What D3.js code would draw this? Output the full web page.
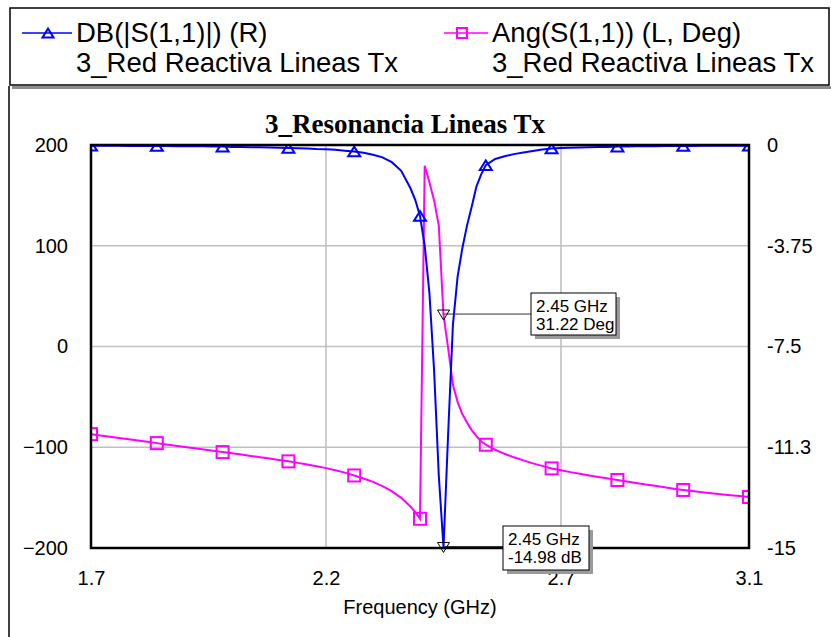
<!DOCTYPE html>
<html>
<head>
<meta charset="utf-8">
<script src="https://cdn.jsdelivr.net/npm/d3@7"></script>
<style>
  body { margin: 0; background: #fff; }
  svg { display: block; font-family: "Liberation Sans", Arial, sans-serif; }
</style>
</head>
<body>
<svg id="chart" width="831" height="637"></svg>
<script>
// Sweep frequencies (GHz): 20 MHz step, 10 MHz around the resonance
const freqGHz = [
  1.70, 1.72, 1.74, 1.76, 1.78, 1.80, 1.82, 1.84, 1.86, 1.88,
  1.90, 1.92, 1.94, 1.96, 1.98, 2.00, 2.02, 2.04, 2.06, 2.08,
  2.10, 2.12, 2.14, 2.16, 2.18, 2.20, 2.22, 2.24, 2.26, 2.28,
  2.30, 2.32, 2.34, 2.36, 2.38, 2.39, 2.40, 2.41, 2.42, 2.43,
  2.44, 2.45, 2.46, 2.47, 2.48, 2.49, 2.50, 2.51, 2.52, 2.53,
  2.54, 2.56, 2.58, 2.60, 2.62, 2.64, 2.66, 2.68, 2.70, 2.72,
  2.74, 2.76, 2.78, 2.80, 2.82, 2.84, 2.86, 2.88, 2.90, 2.92,
  2.94, 2.96, 2.98, 3.00, 3.02, 3.04, 3.06, 3.08, 3.10
];

// DB(|S(1,1)|), right axis
const s11dB = [
  -0.03, -0.03, -0.03, -0.03, -0.04, -0.04, -0.04, -0.04, -0.04, -0.05,
  -0.05, -0.05, -0.05, -0.06, -0.06, -0.07, -0.07, -0.08, -0.08, -0.09,
  -0.10, -0.11, -0.12, -0.13, -0.15, -0.16, -0.18, -0.21, -0.24, -0.29,
  -0.36, -0.46, -0.64, -0.96, -1.62, -2.05, -2.64, -3.75, -5.50, -8.40,
  -12.30, -14.98, -10.70, -6.70, -4.90, -3.85, -3.00, -2.30, -1.55, -1.10,
  -0.75, -0.52, -0.42, -0.34, -0.28, -0.22, -0.17, -0.13, -0.11, -0.10,
  -0.09, -0.08, -0.07, -0.07, -0.06, -0.06, -0.05, -0.05, -0.05, -0.04,
  -0.04, -0.04, -0.04, -0.03, -0.03, -0.03, -0.03, -0.03, -0.03
];

// Ang(S(1,1)) in degrees, left axis
const s11Deg = [
  -87.0, -88.3, -89.6, -90.9, -92.1, -93.4, -94.6, -95.9, -97.2, -98.4,
  -99.7, -101.0, -102.2, -103.5, -104.8, -106.0, -107.3, -108.6, -109.9, -111.2,
  -112.6, -114.0, -115.5, -117.1, -118.8, -120.7, -122.8, -125.2, -128.0, -131.0,
  -134.4, -138.5, -143.5, -150.2, -159.0, -164.5, -171.0, 179.5, 163.0, 145.0,
  120.0, 31.22, -2.0, -38.0, -55.0, -67.0, -75.5, -83.0, -89.0, -94.0,
  -97.5, -102.5, -106.5, -110.0, -113.0, -116.0, -118.5, -121.0, -122.9, -124.7,
  -126.4, -128.0, -129.6, -131.1, -132.5, -134.0, -135.5, -136.9, -138.3, -139.7,
  -141.1, -142.4, -143.5, -144.6, -145.6, -146.6, -147.6, -148.5, -149.4
];

const freqTicks = [1.7, 2.2, 2.7, 3.1];
const degTicks = [200, 100, 0, -100, -200];
const dbTicks = [0, -3.75, -7.5, -11.25, -15];
const dbTickLabels = ["0", "-3.75", "-7.5", "-11.3", "-15"];
const markerEveryGHz = 0.14;

const titleText = "3_Resonancia Lineas Tx";
const xTitle = "Frequency (GHz)";
const legendItems = [
  { name: "DB(|S(1,1)|) (R)", source: "3_Red Reactiva Lineas Tx", color: "#0000ff", symbol: "triangle" },
  { name: "Ang(S(1,1)) (L, Deg)", source: "3_Red Reactiva Lineas Tx", color: "#ff00ff", symbol: "square" }
];
const readouts = [
  { freq: 2.45, value: 31.22, unit: "Deg", axis: "L" },
  { freq: 2.45, value: -14.98, unit: "dB", axis: "R" }
];

// ---------------------------------------------------------------
const svg = d3.select("#chart");
const plot = { left: 91, right: 749, top: 145, bottom: 548 };

const x = d3.scaleLinear().domain([1.7, 3.1]).range([plot.left, plot.right]);
const yL = d3.scaleLinear().domain([-200, 200]).range([plot.bottom, plot.top]);
const yR = d3.scaleLinear().domain([-15, 0]).range([plot.bottom, plot.top]);

svg.append("rect").attr("width", 831).attr("height", 637).attr("fill", "#fff");

// Outer frame and legend panel
svg.append("line").attr("x1", 9).attr("x2", 9).attr("y1", 86).attr("y2", 637)
  .attr("stroke", "#000").attr("stroke-width", 1.5);
svg.append("rect").attr("x", 12).attr("y", 86).attr("width", 819).attr("height", 3).attr("fill", "#8c8c8c");
svg.append("rect").attr("x", 10).attr("y", 8).attr("width", 819).attr("height", 77)
  .attr("fill", "#fff").attr("stroke", "#000").attr("stroke-width", 1.5);

const symbol = (sel, kind, cx, cy, size, color) => {
  if (kind === "triangle") {
    const h = size * 0.8;
    sel.append("path")
      .attr("d", `M${cx - size / 2},${cy + h / 2}L${cx + size / 2},${cy + h / 2}L${cx},${cy - h / 2}Z`)
      .attr("fill", "none").attr("stroke", color).attr("stroke-width", 2);
  } else {
    sel.append("rect").attr("x", cx - size / 2).attr("y", cy - size / 2)
      .attr("width", size).attr("height", size)
      .attr("fill", "none").attr("stroke", color).attr("stroke-width", 2);
  }
};

const legendX = [{ l0: 22, l1: 72, sym: 48, tx: 76 }, { l0: 444, l1: 488, sym: 462, tx: 492 }];
legendItems.forEach((d, i) => {
  const g = svg.append("g");
  const p = legendX[i];
  g.append("line").attr("x1", p.l0).attr("x2", p.l1).attr("y1", 33).attr("y2", 33)
    .attr("stroke", d.color).attr("stroke-width", 1.5);
  symbol(g, d.symbol, p.sym, 33, d.symbol === "triangle" ? 11 : 10, d.color);
  g.append("text").attr("x", p.tx).attr("y", 42).attr("font-size", 27.5).text(d.name);
  g.append("text").attr("x", p.tx).attr("y", 72).attr("font-size", 27.5).text(d.source);
});

// Title
svg.append("text").attr("x", 405).attr("y", 133).attr("text-anchor", "middle")
  .style("font-family", "'Liberation Serif', 'Times New Roman', serif")
  .attr("font-weight", "bold").attr("font-size", 27).text(titleText);

// Grid
const grid = svg.append("g").attr("stroke", "#c0c0c0").attr("stroke-width", 1.6);
grid.selectAll(".gx").data(freqTicks.slice(1, -1)).join("line")
  .attr("x1", d => x(d)).attr("x2", d => x(d)).attr("y1", plot.top).attr("y2", plot.bottom);
grid.selectAll(".gy").data(degTicks.slice(1, -1)).join("line")
  .attr("x1", plot.left).attr("x2", plot.right).attr("y1", d => yL(d)).attr("y2", d => yL(d));

// Traces
svg.append("clipPath").attr("id", "plotClip").append("rect")
  .attr("x", plot.left).attr("y", plot.top)
  .attr("width", plot.right - plot.left).attr("height", plot.bottom - plot.top);
const traces = svg.append("g").attr("clip-path", "url(#plotClip)");

const degPts = freqGHz.map((f, i) => ({ f, v: s11Deg[i] }));
const dbPts = freqGHz.map((f, i) => ({ f, v: s11dB[i] }));

traces.append("path").datum(degPts)
  .attr("d", d3.line().x(d => x(d.f)).y(d => yL(d.v)))
  .attr("fill", "none").attr("stroke", "#ff00ff").attr("stroke-width", 2);
traces.append("path").datum(dbPts)
  .attr("d", d3.line().x(d => x(d.f)).y(d => yR(d.v)))
  .attr("fill", "none").attr("stroke", "#0000ff").attr("stroke-width", 2);

const isMarker = d => {
  const k = (d.f - 1.7) / markerEveryGHz;
  return Math.abs(k - Math.round(k)) < 1e-6;
};
degPts.filter(isMarker).forEach(d => symbol(traces, "square", x(d.f), yL(d.v), 12, "#ff00ff"));
dbPts.filter(isMarker).forEach(d => symbol(traces, "triangle", x(d.f), yR(d.v), 12, "#0000ff"));

// Plot frame
svg.append("rect").attr("x", plot.left).attr("y", plot.top)
  .attr("width", plot.right - plot.left).attr("height", plot.bottom - plot.top)
  .attr("fill", "none").attr("stroke", "#000").attr("stroke-width", 2.5);

// Axes
const styleAxis = g => {
  g.select(".domain").remove();
  g.selectAll("line").remove();
  g.selectAll("text").attr("font-size", 20).attr("fill", "#000")
    .attr("font-family", "'Liberation Sans', Arial, sans-serif");
};
svg.append("g").attr("transform", `translate(${plot.left},0)`)
  .call(d3.axisLeft(yL).tickValues(degTicks).tickSize(0).tickPadding(23).tickFormat(d3.format("d")))
  .call(styleAxis);
svg.append("g").attr("transform", `translate(${plot.right},0)`)
  .call(d3.axisRight(yR).tickValues(dbTicks).tickSize(0).tickPadding(18)
    .tickFormat((d, i) => dbTickLabels[i]))
  .call(styleAxis);
svg.append("g").attr("transform", `translate(0,${plot.bottom})`)
  .call(d3.axisBottom(x).tickValues(freqTicks).tickSize(0).tickPadding(23).tickFormat(d3.format(".1f")))
  .call(styleAxis);

svg.append("text").attr("x", (plot.left + plot.right) / 2).attr("y", 614)
  .attr("text-anchor", "middle").attr("font-size", 20).text(xTitle);

// Marker readouts
const boxes = [{ x: 531, y: 293, w: 85, h: 42 }, { x: 503, y: 526, w: 86, h: 44 }];
readouts.forEach((r, i) => {
  const px = x(r.freq);
  const py = r.axis === "L" ? yL(r.value) : yR(r.value);
  const b = boxes[i];
  const g = svg.append("g");
  g.append("line").attr("x1", px).attr("x2", b.x).attr("y1", py - 1).attr("y2", py - 1)
    .attr("stroke", "#333").attr("stroke-width", 1);
  g.append("path")
    .attr("d", `M${px - 6},${py - 5}L${px + 6},${py - 5}L${px},${py + 5}Z`)
    .attr("fill", "none").attr("stroke", "#000").attr("stroke-width", 1);
  g.append("rect").attr("x", b.x + 4).attr("y", b.y + 4).attr("width", b.w).attr("height", b.h)
    .attr("fill", "#9a9a9a");
  g.append("rect").attr("x", b.x).attr("y", b.y).attr("width", b.w).attr("height", b.h)
    .attr("fill", "#fff").attr("stroke", "#000").attr("stroke-width", 1);
  g.append("text").attr("x", b.x + 5).attr("y", b.y + 19).attr("font-size", 17)
    .text(`${r.freq.toFixed(2)} GHz`);
  g.append("text").attr("x", b.x + 5).attr("y", b.y + 37).attr("font-size", 17)
    .text(`${r.value.toFixed(2)} ${r.unit}`);
});
</script>
</body>
</html>
